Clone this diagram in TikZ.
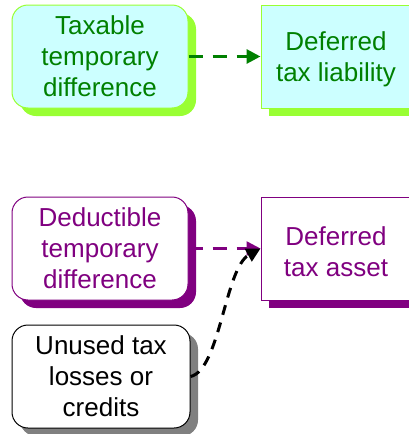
\documentclass[tikz,border=0pt]{standalone}
\usepackage{fontspec}
\setmainfont{Liberation Sans}
\usetikzlibrary{shadows,arrows.meta}
\definecolor{cyanfill}{HTML}{CCFFFF}
\definecolor{limeg}{HTML}{99FF33}
\definecolor{dgreen}{HTML}{008000}
\definecolor{purp}{HTML}{800080}
\definecolor{shgray}{HTML}{808080}
\tikzset{
  box/.style={minimum width=176pt, minimum height=103pt, align=center, inner sep=0pt,
    font=\fontsize{26}{31}\selectfont, line width=1pt},
  rbox/.style={box, rounded corners=16pt},
  sh/.style={drop shadow={shadow xshift=8pt, shadow yshift=-8pt, fill=#1, opacity=1}},
  conn/.style={line width=3pt, dash pattern=on 14pt off 10pt, -{Triangle[length=14pt,width=14pt]}}
}
\begin{document}
\begin{tikzpicture}[x=1pt,y=-1pt]
\useasboundingbox (0,0) rectangle (408,434);
\node[rbox, draw=limeg, fill=cyanfill, text=dgreen, sh=limeg] (tax) at (100,56.5) {Taxable\\temporary\\difference};
\node[box, minimum width=150pt, draw=limeg, fill=cyanfill, sh=limeg,
  label={[align=center, font=\fontsize{26}{31}\selectfont, text=dgreen, yshift=-3pt]center:{Deferred\\tax liability}}] (dtl) at (336,56.5) {};
\node[rbox, draw=purp, fill=white, text=purp, sh=purp] (ded) at (100,248.5) {Deductible\\temporary\\difference};
\node[box, minimum width=150pt, draw=purp, fill=white, sh=purp,
  label={[align=center, font=\fontsize{26}{31}\selectfont, text=purp, yshift=-3pt]center:{Deferred\\tax asset}}] (dta) at (336,248.5) {};
\node[rbox, minimum width=178pt, draw=black, fill=white, text=black, sh=shgray] (unu) at (101,376.5) {Unused tax\\losses or\\credits};
\draw[conn, dgreen] (tax.east) -- (dtl.west);
\draw[conn, purp, line width=2.5pt] (ded.east) -- (dta.west);
\draw[conn, black, dash pattern=on 10pt off 8pt] (unu.east) .. controls (220,370) and (225,268) .. (dta.west);
\end{tikzpicture}
\end{document}
